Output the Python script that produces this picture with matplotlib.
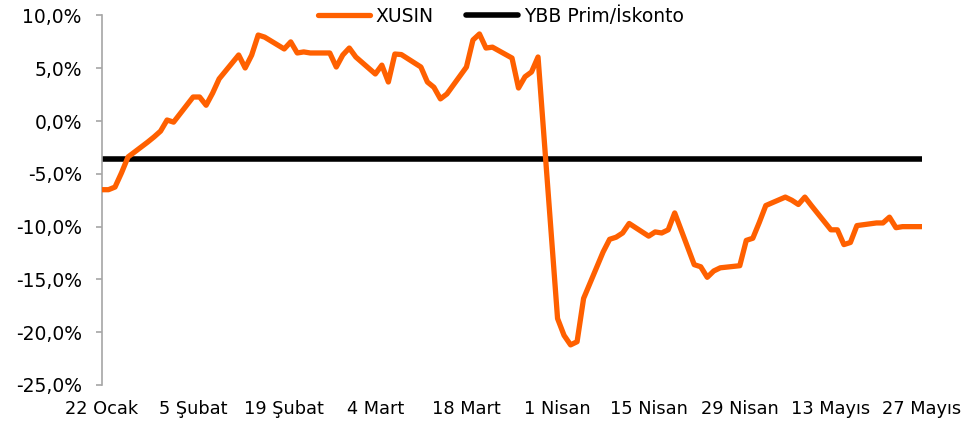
import matplotlib
matplotlib.use("Agg")
import matplotlib.pyplot as plt
import pandas as pd

plt.rcParams['font.family'] = ['DejaVu Sans']

# Trading days (weekdays) 22 Jan 2024 - 27 May 2024
dates = pd.bdate_range("2024-01-22", "2024-05-27")

xusin = [
    -6.5, -6.5, -6.25, -4.9, -3.4,
    -2.0, -1.5, -0.95, 0.1, -0.1,
    2.28, 2.28, 1.5, 2.65, 4.0,
    6.26, 5.03, 6.25, 8.15, 7.95,
    6.83, 7.5, 6.45, 6.55, 6.45,
    6.45, 5.12, 6.26, 6.92, 6.07,
    4.46, 5.3, 3.7, 6.35, 6.3,
    5.12, 3.7, 3.2, 2.1, 2.57,
    5.12, 7.68, 8.25, 6.92, 7.0,
    5.97, 3.13, 4.2, 4.65, 6.07,
    -18.7, -20.3, -21.2, -20.9, -16.8,
    -12.4, -11.2, -11.0, -10.6, -9.7,
    -10.9, -10.5, -10.6, -10.3, -8.7,
    -13.6, -13.8, -14.8, -14.2, -13.9,
    -13.7, -11.3, -11.1, -9.6, -8.0,
    -7.2, -7.5, -7.9, -7.2, -8.0,
    -10.3, -10.3, -11.7, -11.5, -9.9,
    -9.65, -9.65, -9.1, -10.1, -10.0,
    -10.0,
]
ybb_prim = -3.6

tick_dates = pd.date_range("2024-01-22", "2024-05-27", freq="14D")
tick_labels = ["22 Ocak", "5 Şubat", "19 Şubat", "4 Mart", "18 Mart",
               "1 Nisan", "15 Nisan", "29 Nisan", "13 Mayıs", "27 Mayıs"]
y_ticks = [10, 5, 0, -5, -10, -15, -20, -25]

fig = plt.figure(figsize=(9.61, 4.26), dpi=100)
ax = fig.add_axes([102/961, 1-385/426, (922-102)/961, (385-15.5)/426])

ax.plot(dates, xusin, color="#FF6000", lw=3.8, solid_capstyle="round",
        solid_joinstyle="round", label="XUSIN", zorder=3)
ax.plot([dates[0], dates[-1]], [ybb_prim, ybb_prim], color="black", lw=4.0,
        solid_capstyle="round", label="YBB Prim/İskonto", zorder=2)

ax.set_xlim(dates[0], dates[-1])
ax.set_ylim(-25, 10)
ax.set_yticks(y_ticks)
ax.set_yticklabels([f"{v:.1f}%".replace(".", ",") for v in y_ticks])
ax.set_xticks(tick_dates)
ax.set_xticklabels(tick_labels)

for s in ["top", "right", "bottom"]:
    ax.spines[s].set_visible(False)
ax.spines["left"].set_color("#A6A6A6")
ax.spines["left"].set_linewidth(1.2)

ax.tick_params(axis="y", direction="out", length=4, width=1.2, color="#A6A6A6",
               labelsize=13.5, pad=10.5, labelcolor="black")
ax.tick_params(axis="x", length=0, labelsize=12.8, pad=11, labelcolor="black")

leg = fig.legend(loc="center", bbox_to_anchor=(0.521, 0.963), ncol=2,
                 frameon=False, fontsize=13.5, handlelength=2.8,
                 handletextpad=0.3, columnspacing=1.7, borderaxespad=0)

fig.savefig("out.png", dpi=100)
